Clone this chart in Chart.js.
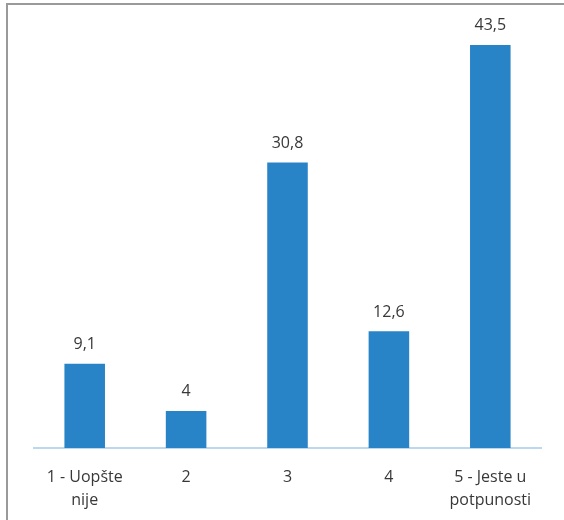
<!DOCTYPE html>
<html>
<head>
<meta charset="utf-8">
<script src="https://cdn.jsdelivr.net/npm/chart.js@4"></script>
<style>
  html, body { margin: 0; padding: 0; background: #fff; }
  #wrap { position: relative; width: 564px; height: 520px; }
  #frame {
    position: absolute; left: 6px; top: 3px; right: 0; bottom: 0;
    border-top: 2px solid #9a9a9a; border-left: 2px solid #9a9a9a;
    pointer-events: none;
  }
  canvas { position: absolute; left: 0; top: 0; }
</style>
</head>
<body>
<div id="wrap">
  <canvas id="barChart" width="564" height="520"></canvas>
  <div id="frame"></div>
</div>
<script>
const categories = [['1 - Uopšte', 'nije'], '2', '3', '4', ['5 - Jeste u', 'potpunosti']];
const values = [9.1, 4, 30.8, 12.6, 43.5];

const fontFamily = '"Open Sans", sans-serif';

// value labels above bars, comma as decimal separator
const valueLabels = {
    id: 'valueLabels',
    afterDatasetsDraw(chart) {
        const ctx = chart.ctx;
        const meta = chart.getDatasetMeta(0);
        ctx.save();
        ctx.fillStyle = '#383838';
        ctx.font = '16px ' + fontFamily;
        ctx.textAlign = 'center';
        ctx.textBaseline = 'middle';
        meta.data.forEach((bar, i) => {
            const txt = String(values[i]).replace('.', ',');
            ctx.fillText(txt, bar.x, bar.y - 19);
        });
        ctx.restore();
    }
};

new Chart(document.getElementById('barChart').getContext('2d'), {
    type: 'bar',
    data: {
        labels: categories,
        datasets: [{
            data: values,
            backgroundColor: '#2984c7',
            barPercentage: 0.4,
            categoryPercentage: 1
        }]
    },
    options: {
        responsive: false,
        animation: false,
        layout: { padding: { left: 34, right: 23, top: 31, bottom: 0 } },
        plugins: {
            legend: { display: false },
            tooltip: { enabled: false }
        },
        scales: {
            x: {
                grid: { display: false, drawTicks: false },
                border: { display: true, color: '#bdd7ee', width: 2 },
                ticks: {
                    color: '#383838',
                    font: { family: fontFamily, size: 16, lineHeight: 1.45 },
                    padding: 18,
                    maxRotation: 0,
                    autoSkip: false
                },
                afterFit: scale => { scale.height = 72; }
            },
            y: {
                display: false,
                min: 0,
                max: 45
            }
        }
    },
    plugins: [valueLabels]
});
</script>
</body>
</html>
